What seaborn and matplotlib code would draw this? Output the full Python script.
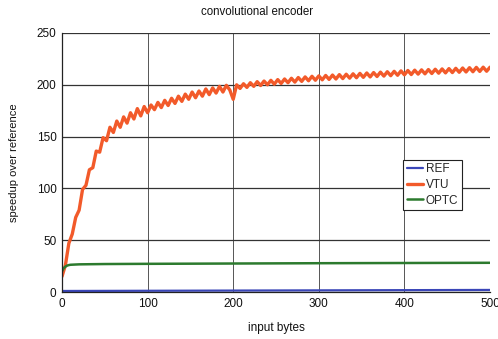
import numpy as np
import pandas as pd
import matplotlib
matplotlib.use("Agg")
import matplotlib.pyplot as plt
import seaborn as sns

title = "convolutional encoder"
x_label = "input bytes"
y_label = "speedup over reference"
series_names = ["REF", "VTU", "OPTC"]
series_colors = ["#3a46b8", "#f25a2a", "#2c7a2e"]

vtu_x = list(range(0, 501, 4))
vtu_y = [15, 26, 47, 56, 72, 79, 99, 103, 118, 120, 136, 135, 149, 146, 159, 154,
         165, 159, 169, 163, 173, 167, 177, 170, 179, 173, 180.5, 176, 183, 178,
         185, 180, 187, 182, 189, 184, 191, 186, 193, 187.5, 194, 189, 196, 190.5,
         197, 192, 198.5, 193, 199.5, 195, 186, 200, 196.5, 201, 197.5, 202, 198.5,
         203, 199.3, 203.6, 200, 204.3, 200.6, 205, 201.3, 205.6, 202, 206.3,
         202.6, 207, 203.3, 207.6, 203.9, 208.2, 204.4, 208.6, 204.8, 209, 205.2,
         209.4, 205.6, 209.8, 206, 210.2, 206.4, 210.6, 206.8, 211, 207.2, 211.4,
         207.6, 211.8, 208, 212.2, 208.4, 212.6, 208.8, 213, 209.2, 213.4, 209.6,
         213.8, 209.9, 214.1, 210.3, 214.4, 210.6, 214.7, 210.9, 215.0, 211.2, 215.3,
         211.5, 215.6, 211.8, 215.9, 212.1, 216.2, 212.4, 216.5, 212.6, 216.8, 212.9,
         217.0, 213.1, 217.0]

optc_x = [0, 2, 4, 6, 8, 10, 15, 20, 30, 50, 100, 200, 300, 400, 500]
optc_y = [20, 23, 24.5, 25.5, 26, 26.3, 26.5, 26.7, 26.8, 27, 27.2, 27.5, 27.8, 28, 28.2]

ref_x = [0, 100, 200, 300, 400, 500]
ref_y = [1.0, 1.2, 1.4, 1.6, 1.8, 2.0]

x_ticks = [0, 100, 200, 300, 400, 500]
y_ticks = [0, 50, 100, 150, 200, 250]

df = pd.concat([
    pd.DataFrame({"x": ref_x, "y": ref_y, "series": "REF"}),
    pd.DataFrame({"x": vtu_x, "y": vtu_y, "series": "VTU"}),
    pd.DataFrame({"x": optc_x, "y": optc_y, "series": "OPTC"}),
], ignore_index=True)

sns.set_theme(style="white")
plt.rcParams["font.family"] = ["Liberation Sans", "DejaVu Sans"]

fig = plt.figure(figsize=(4.98, 3.39), dpi=100)
ax = fig.add_axes([0.1245, 0.1386, 0.8595, 0.7641])

widths = {"REF": 1.6, "VTU": 2.4, "OPTC": 1.8}
for name, color in zip(series_names, series_colors):
    sub = df[df["series"] == name]
    sns.lineplot(data=sub, x="x", y="y", color=color, linewidth=widths[name],
                 label=name, ax=ax, estimator=None, sort=True)

ax.set_xlim(0, 500)
ax.set_ylim(0, 250)
ax.set_xticks(x_ticks)
ax.set_yticks(y_ticks)
ax.grid(axis="y", color="#333333", linewidth=0.9)
ax.grid(axis="x", color="#555555", linewidth=0.7)
ax.set_axisbelow(True)
for s in ["top", "right"]:
    ax.spines[s].set_visible(False)
for s in ["left", "bottom"]:
    ax.spines[s].set_color("#222222")
    ax.spines[s].set_linewidth(0.9)
ax.tick_params(axis="both", length=0, pad=4, labelsize=8.5, colors="#111111")
ax.set_xlabel(x_label, fontsize=8.5, color="#111111", labelpad=9)
ax.set_ylabel(y_label, fontsize=8, color="#111111", labelpad=13)
fig.text(0.516, 0.965, title, fontsize=8.3, color="#111111", ha="center", va="center")

leg = ax.legend(loc="upper left", bbox_to_anchor=(0.797, 0.51), fontsize=8.5,
                frameon=True, fancybox=False, handlelength=1.4, handletextpad=0.2,
                borderpad=0.3, labelspacing=0.3, borderaxespad=0)
leg.get_frame().set_edgecolor("#222222")
leg.get_frame().set_linewidth(0.8)
leg.get_frame().set_alpha(1)

fig.savefig("out.png", dpi=100)
